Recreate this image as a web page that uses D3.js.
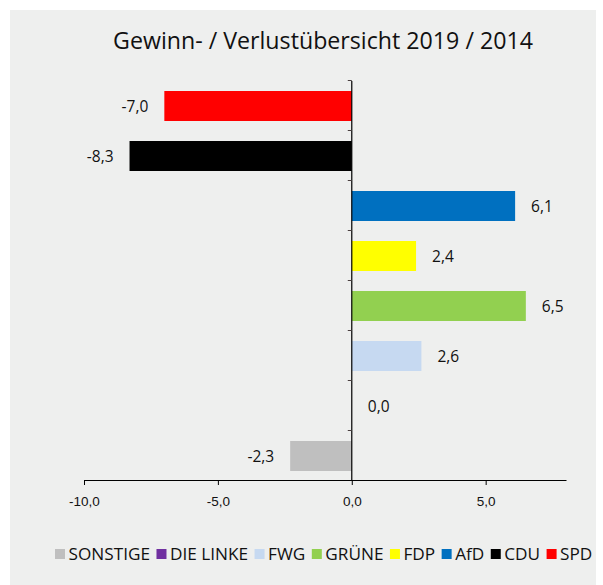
<!DOCTYPE html>
<html>
<head>
<meta charset="utf-8">
<script src="https://cdn.jsdelivr.net/npm/d3@7"></script>
<style>
  body { margin: 0; background: #ffffff; }
  svg { display: block; }
</style>
</head>
<body>
<script>
// parties, top to bottom
const parties = ["SPD", "CDU", "AfD", "FDP", "GRÜNE", "FWG", "DIE LINKE", "SONSTIGE"];
const changes = [-7.0, -8.3, 6.1, 2.4, 6.5, 2.6, 0.0, -2.3];
const colors = ["#ff0000", "#000000", "#0070c0", "#ffff00", "#92d050", "#c6d9f1", "#7030a0", "#bfbfbf"];
const xTicks = [-10, -5, 0, 5];
const legendOrder = ["SONSTIGE", "DIE LINKE", "FWG", "GRÜNE", "FDP", "AfD", "CDU", "SPD"];

const chart = {
    width: 603,
    height: 585,
    bg: "#eeefee",
    font: "'Open Sans', sans-serif",
    plot: { left: 84, right: 566, top: 81, bottom: 481 }
};

const data = parties.map((p, i) => ({ party: p, value: changes[i], color: colors[i] }));
const fmt = v => d3.format(".1f")(v).replace(".", ",").replace("−", "-");

const svg = d3.select("body")
    .append("svg")
      .attr("width", chart.width)
      .attr("height", chart.height);

// grey panel
svg.append("rect")
    .attr("x", 10).attr("y", 10)
    .attr("width", 586).attr("height", 575)
    .attr("fill", chart.bg);

// title
svg.append("text")
    .attr("x", 323).attr("y", 49)
    .attr("text-anchor", "middle")
    .attr("font-family", chart.font)
    .attr("font-size", 23.2)
    .attr("fill", "#111")
    .text("Gewinn- / Verlustübersicht 2019 / 2014");

const x = d3.scaleLinear()
    .domain([-10, 8])
    .range([chart.plot.left, chart.plot.right]);

const y = d3.scaleBand()
    .domain(parties)
    .range([chart.plot.top, chart.plot.bottom])
    .paddingInner(0.4)
    .paddingOuter(0.2);

// bars
svg.selectAll(".bar")
    .data(data)
    .enter()
    .append("rect")
      .attr("class", "bar")
      .attr("x", d => x(Math.min(0, d.value)))
      .attr("y", d => y(d.party))
      .attr("width", d => Math.abs(x(d.value) - x(0)))
      .attr("height", y.bandwidth())
      .attr("fill", d => d.color);

// x axis
const xAxis = svg.append("g")
    .attr("transform", `translate(0,${chart.plot.bottom - 1})`)
    .call(d3.axisBottom(x).tickValues(xTicks).tickSize(5).tickSizeOuter(0).tickFormat(fmt));
xAxis.select(".domain").attr("stroke", "#000").attr("stroke-width", 1.2);
xAxis.selectAll(".tick line").attr("stroke", "#000");
xAxis.selectAll(".tick text")
    .attr("dy", 0).attr("y", 26)
    .attr("font-family", "'Liberation Sans', Arial, sans-serif")
    .attr("font-size", 13.5)
    .attr("fill", "#111");

// vertical zero axis with category boundary ticks
const boundaries = parties.map(p => y(p) - y.step() * y.paddingInner() / 2 - 0.5);
svg.append("line")
    .attr("x1", x(0)).attr("x2", x(0))
    .attr("y1", chart.plot.top).attr("y2", chart.plot.bottom)
    .attr("stroke", "#000").attr("stroke-width", 1.2);
svg.selectAll(".ytick")
    .data(boundaries)
    .enter()
    .append("line")
      .attr("class", "ytick")
      .attr("x1", x(0) - 4).attr("x2", x(0))
      .attr("y1", d => d).attr("y2", d => d)
      .attr("stroke", "#4a4040");

// value labels
svg.selectAll(".value")
    .data(data)
    .enter()
    .append("text")
      .attr("class", "value")
      .attr("x", d => d.value < 0 ? x(d.value) - 16 : x(d.value) + 16)
      .attr("y", d => y(d.party) + y.bandwidth() / 2)
      .attr("dy", "0.36em")
      .attr("text-anchor", d => d.value < 0 ? "end" : "start")
      .attr("font-family", chart.font)
      .attr("font-size", 15.5)
      .attr("fill", "#111")
      .text(d => fmt(d.value));

// legend
const legend = svg.append("g").attr("transform", "translate(55,549)");
let lx = 0;
legendOrder.forEach(name => {
    const d = data.find(e => e.party === name);
    legend.append("rect")
        .attr("x", lx).attr("y", 0)
        .attr("width", 10).attr("height", 10)
        .attr("fill", d.color);
    const t = legend.append("text")
        .attr("x", lx + 13.5).attr("y", 10.5)
        .attr("font-family", chart.font)
        .attr("font-size", 17.2)
        .attr("fill", "#111")
        .text(name);
    lx += 13.5 + t.node().getComputedTextLength() + 6.5;
});
</script>
</body>
</html>
